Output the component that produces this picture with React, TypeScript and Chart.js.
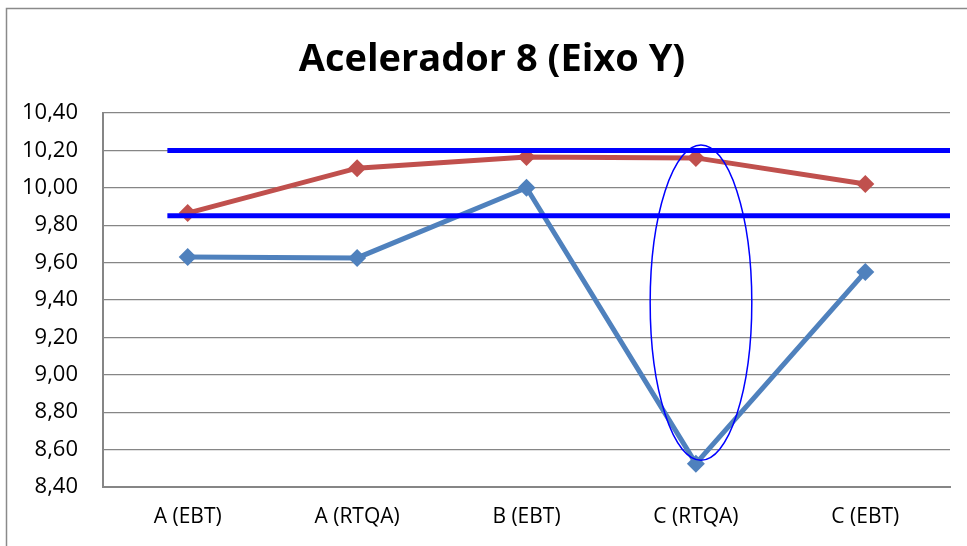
import React, { useEffect, useRef } from "react";
import { Chart, registerables } from "chart.js";
Chart.register(...registerables);

const categories = ["A (EBT)", "A (RTQA)", "B (EBT)", "C (RTQA)", "C (EBT)"];
const seriesBlue = [9.63, 9.625, 10.0, 8.525, 9.55];
const seriesRed = [9.865, 10.105, 10.165, 10.16, 10.02];
const limitValues = [10.2, 9.85];
const limitSpan = [-0.12, 4.5];
const yMin = 8.4;
const yMax = 10.4;
const yStep = 0.2;
const titleText = "Acelerador 8 (Eixo Y)";
const highlight = { cx: 3.03, cy: 9.386, rx: 0.3, ry: 0.843 };

const FONT = "'Open Sans', 'Noto Sans', sans-serif";
const GRID = "#868686";

const framePlugin = {
  id: "frame",
  beforeDraw(chart: any) {
    const ctx = chart.ctx;
    ctx.save();
    ctx.fillStyle = "#ffffff";
    ctx.fillRect(0, 0, chart.width, chart.height);
    ctx.strokeStyle = "#8a8a8a";
    ctx.lineWidth = 1.5;
    ctx.strokeRect(6.5, 8.5, chart.width + 20, chart.height + 20);
    // title, centred on the full (cropped) chart frame
    ctx.fillStyle = "#000000";
    ctx.font = `bold 38px ${FONT}`;
    ctx.textAlign = "center";
    ctx.textBaseline = "middle";
    ctx.fillText(titleText, 492, 60);
    ctx.restore();
  },
};

const ellipsePlugin = {
  id: "highlightEllipse",
  afterDatasetsDraw(chart: any) {
    const xs = chart.scales.x2;
    const ys = chart.scales.y;
    const cx = xs.getPixelForValue(highlight.cx);
    const cy = ys.getPixelForValue(highlight.cy);
    const rx = Math.abs(xs.getPixelForValue(highlight.cx + highlight.rx) - cx);
    const ry = Math.abs(ys.getPixelForValue(highlight.cy + highlight.ry) - cy);
    const ctx = chart.ctx;
    ctx.save();
    ctx.strokeStyle = "#0000ff";
    ctx.lineWidth = 1.5;
    ctx.beginPath();
    ctx.ellipse(cx, cy, rx, ry, 0, 0, Math.PI * 2);
    ctx.stroke();
    ctx.restore();
  },
};

export default function App() {
  const ref = useRef<HTMLCanvasElement>(null);
  useEffect(() => {
    if (!ref.current) return;
    const limitSets = limitValues.map((v) => ({
      type: "line" as const,
      data: limitSpan.map((x) => ({ x, y: v })),
      xAxisID: "x2",
      borderColor: "#0000ff",
      borderWidth: 5,
      pointRadius: 0,
      fill: false,
    }));
    const series = (data: number[], color: string) => ({
      data,
      borderColor: color,
      backgroundColor: color,
      borderWidth: 5,
      pointStyle: "rectRot",
      pointRadius: 9,
      pointBorderWidth: 0,
      xAxisID: "x",
    });
    const chart = new Chart(ref.current, {
      type: "line",
      data: {
        labels: categories,
        datasets: [
          ...limitSets,
          series(seriesBlue, "#4F81BD"),
          series(seriesRed, "#C0504D"),
        ] as any,
      },
      options: {
        animation: false,
        responsive: false,
        layout: { padding: { left: 0, right: 17, top: 113, bottom: 0 } },
        plugins: {
          legend: { display: false },
          tooltip: { enabled: false },
          title: { display: false },
        },
        scales: {
          x: {
            type: "category",
            offset: true,
            grid: { display: false, drawTicks: false },
            border: { display: true, color: GRID, width: 2 },
            ticks: { color: "#000", font: { family: FONT, size: 21 }, padding: 17 },
            afterFit(scale: any) {
              scale.height = 59;
            },
          },
          x2: {
            type: "linear",
            display: false,
            min: -0.5,
            max: 4.5,
          },
          y: {
            min: yMin,
            max: yMax,
            grid: { color: GRID, lineWidth: 1.3, drawTicks: false },
            border: { display: true, color: GRID, width: 2 },
            ticks: {
              stepSize: yStep,
              color: "#000",
              padding: 25,
              font: { family: FONT, size: 22 },
              callback: (v: any) => Number(v).toFixed(2).replace(".", ","),
            },
            afterFit(scale: any) {
              scale.width = 103;
            },
          },
        },
      } as any,
      plugins: [framePlugin, ellipsePlugin],
    });
    return () => chart.destroy();
  }, []);
  return (
    <div style={{ position: "absolute", left: 0, top: 0, width: 967, height: 546 }}>
      <canvas ref={ref} width={967} height={546} />
    </div>
  );
}
